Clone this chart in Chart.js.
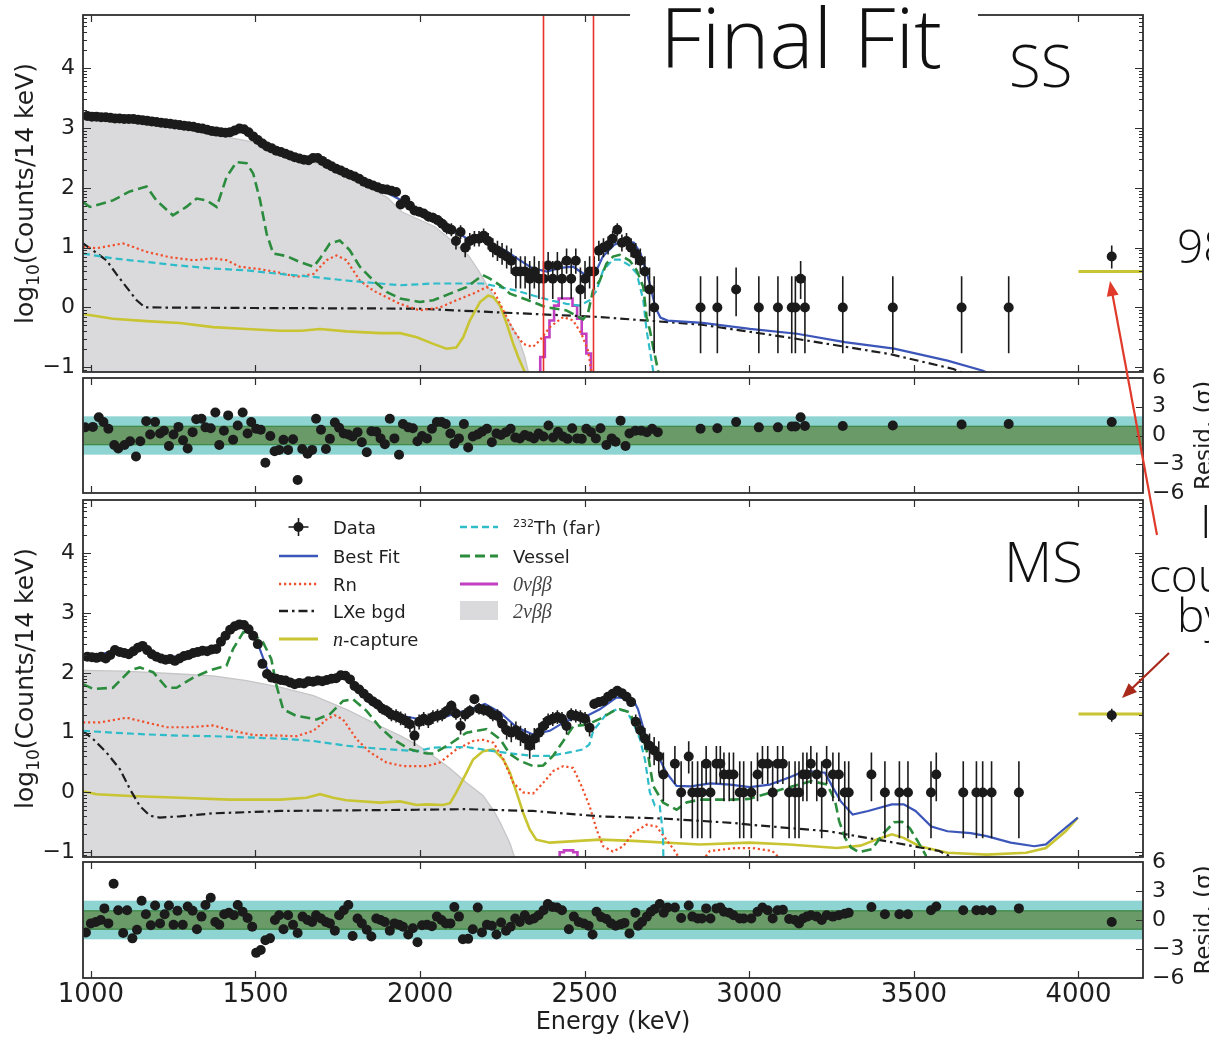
<!DOCTYPE html>
<html>
<head>
<meta charset="utf-8">
<title>Final Fit</title>
<script src="https://cdn.jsdelivr.net/npm/chart.js@4.4.1/dist/chart.umd.min.js"></script>
<style>
  html, body { margin: 0; padding: 0; background: #ffffff; }
  #page { position: relative; width: 1209px; height: 1040px; overflow: hidden; background: #fff; }
  #page canvas { position: absolute; left: 0; }
</style>
</head>
<body>
<div id="page">
  <canvas id="ssMain" width="1209" height="380" style="top:0px"></canvas>
  <canvas id="ssRes" width="1209" height="150" style="top:360px"></canvas>
  <canvas id="msMain" width="1209" height="380" style="top:485px"></canvas>
  <canvas id="msRes" width="1209" height="195" style="top:845px"></canvas>
  <canvas id="notes" width="1209" height="1040" style="top:0px"></canvas>
</div>
<script>
// ---------------- axes ----------------
const X_MIN = 976, X_MAX = 4196;
const X_TICKS = [1000, 1500, 2000, 2500, 3000, 3500, 4000];
const LOG_MIN = -1.08, LOG_MAX = 4.89;
const LOG_TICKS = [-1, 0, 1, 2, 3, 4];
const RES_MIN = -6, RES_MAX = 6;
const RES_TICKS = [-6, -3, 0, 3, 6];
const SIGMA_BANDS = [1, 2];
const BIN_WIDTH = 14;
const ROI_BOUNDS = [2374, 2525];

// ---------------- single-site (SS) spectrum ----------------
// log10(counts) per 14 keV bin, contiguous bins starting at SS_FIRST_BIN
const SS_FIRST_BIN = 989;
const SS_COUNTS_LOG = [
  3.20,3.19,3.19,3.18,3.18,3.17,3.16,3.16,3.15,3.15,
  3.15,3.14,3.13,3.12,3.11,3.10,3.09,3.08,3.07,3.06,
  3.05,3.04,3.03,3.02,3.00,2.99,2.97,2.95,2.94,2.93,
  2.92,2.93,2.96,2.99,2.98,2.93,2.86,2.80,2.74,2.69,
  2.66,2.62,2.60,2.57,2.54,2.51,2.49,2.47,2.46,2.50,
  2.50,2.45,2.40,2.36,2.32,2.29,2.25,2.22,2.19,2.15,
  2.10,2.07,2.04,2.01,1.98,1.97,1.95,1.93,1.72,1.80,
  1.70,1.62,1.60,1.57,1.52,1.50,1.46,1.40,1.33,1.30,
  1.11,1.26,1.00,1.11,1.15,1.15,1.20,1.11,1.00,0.95,
  0.90,0.85,0.78,0.60,0.60,0.60,0.48,0.60,0.48,0.48,
  0.70,0.48,0.70,0.48,0.78,0.48,0.78,0.30,0.48,0.60,
  0.60,0.95,1.00,1.04,1.15,1.30,1.08,1.11,1.00,0.90,
  0.78,0.60,0.30,0.00
];
// isolated high-energy bins [energy, log10(counts)]; last one is the overflow bin
const SS_SPARSE = [
  [2852,0],[2903,0],[2960,0.30],[3029,0],[3087,0],[3129,0],[3140,0],[3156,0.48],
  [3169,0],[3284,0],[3436,0],[3645,0],[3788,0],[4101,0.85]
];
const SS_OVERFLOW_LEVEL = [[4000,0.6],[4196,0.6]];
const SS_BEST_FIT = [
  [976,3.19],[1100,3.15],[1200,3.10],[1300,3.02],[1400,2.93],[1450,2.97],[1480,2.93],[1530,2.71],
  [1600,2.56],[1650,2.47],[1690,2.49],[1750,2.32],[1850,2.06],[1950,1.77],[2000,1.61],[2040,1.49],
  [2090,1.32],[2140,1.16],[2200,1.10],[2260,0.95],[2300,0.80],[2340,0.66],[2385,0.60],[2425,0.66],
  [2465,0.68],[2500,0.55],[2530,0.55],[2555,0.85],[2590,1.05],[2620,1.12],[2650,1.08],[2670,0.90],
  [2695,0.45],[2715,0.0],[2730,-0.17],[2752,-0.22],[2858,-0.26],[3002,-0.36],[3145,-0.44],
  [3290,-0.58],[3440,-0.69],[3602,-0.89],[3710,-1.06],[3740,-1.14]
];
const SS_VESSEL = [
  [976,1.76],[997,1.68],[1067,1.79],[1118,1.94],[1169,2.02],[1199,1.79],[1249,1.54],[1290,1.68],
  [1321,1.82],[1351,1.79],[1382,1.68],[1412,2.18],[1442,2.43],[1473,2.41],[1493,2.24],[1514,1.79],
  [1534,1.23],[1554,0.90],[1594,0.86],[1634,0.76],[1676,0.68],[1696,0.82],[1726,1.07],[1756,1.12],
  [1786,0.96],[1817,0.68],[1858,0.45],[1898,0.26],[1939,0.15],[1999,0.09],[2040,0.12],[2091,0.23],
  [2141,0.34],[2191,0.54],[2212,0.48],[2243,0.37],[2273,0.23],[2303,0.17],[2343,0.09],[2384,0.0],
  [2424,-0.03],[2444,-0.05],[2475,-0.14],[2495,-0.20],[2510,-0.10],[2525,0.28],[2546,0.45],
  [2566,0.73],[2586,0.85],[2606,0.88],[2637,0.78],[2658,0.62],[2678,0.34],[2688,-0.16],
  [2698,-0.38],[2708,-0.66],[2723,-1.06],[2730,-1.5]
];
const SS_TH_FAR = [
  [976,0.90],[1067,0.82],[1169,0.76],[1270,0.70],[1371,0.65],[1473,0.62],[1574,0.56],[1676,0.51],
  [1776,0.45],[1878,0.40],[1939,0.37],[2040,0.40],[2141,0.40],[2191,0.40],[2243,0.34],[2293,0.28],
  [2343,0.20],[2394,0.12],[2445,0.06],[2485,0.03],[2515,0.12],[2536,0.28],[2556,0.62],[2586,0.80],
  [2606,0.80],[2637,0.70],[2658,0.57],[2678,0.12],[2688,-0.38],[2698,-0.72],[2708,-1.06],[2715,-1.5]
];
const SS_RN = [
  [976,1.01],[1017,0.99],[1098,1.07],[1169,0.93],[1239,0.84],[1311,0.79],[1371,0.82],[1412,0.79],
  [1452,0.68],[1514,0.64],[1574,0.58],[1624,0.51],[1676,0.56],[1716,0.79],[1746,0.87],[1776,0.79],
  [1817,0.45],[1858,0.28],[1898,0.17],[1939,0.06],[1999,-0.05],[2060,0.0],[2110,0.12],[2161,0.23],
  [2202,0.34],[2223,0.28],[2253,-0.05],[2283,-0.38],[2313,-0.61],[2343,-0.66],[2364,-0.55],
  [2394,-0.33],[2435,-0.16],[2465,-0.22],[2490,-0.44],[2510,-0.72],[2520,-1.06],[2525,-1.5]
];
const SS_LXE = [
  [976,1.07],[1007,0.95],[1047,0.79],[1077,0.56],[1108,0.34],[1139,0.12],[1164,0.0],[1500,-0.01],
  [1990,-0.02],[2545,-0.16],[2856,-0.29],[3115,-0.50],[3427,-0.78],[3620,-1.03],[3660,-1.12]
];
const SS_NCAPTURE = [
  [976,-0.11],[1067,-0.19],[1169,-0.23],[1270,-0.26],[1371,-0.33],[1473,-0.36],[1574,-0.39],
  [1640,-0.39],[1696,-0.36],[1776,-0.40],[1878,-0.43],[1939,-0.43],[1990,-0.50],[2040,-0.61],
  [2080,-0.69],[2110,-0.67],[2131,-0.50],[2151,-0.22],[2182,0.09],[2207,0.20],[2223,0.17],
  [2243,0.03],[2263,-0.27],[2283,-0.61],[2298,-0.83],[2318,-1.08],[2322,-1.5]
];
const SS_ZERONU = [
  [2358,-1.5],[2372,-0.83],[2386,-0.50],[2400,-0.22],[2414,0.03],[2428,0.15],[2442,0.15],
  [2456,0.15],[2470,0.03],[2484,-0.19],[2498,-0.44],[2512,-0.77],[2526,-1.5]
];
const SS_TWONU = [
  [976,3.14],[1100,3.10],[1200,3.04],[1300,2.96],[1400,2.86],[1500,2.76],[1600,2.58],[1700,2.38],
  [1800,2.14],[1900,1.84],[1944,1.60],[2045,1.35],[2096,1.12],[2147,0.87],[2177,0.62],[2207,0.34],
  [2238,0.06],[2268,-0.22],[2298,-0.50],[2318,-0.83],[2328,-1.06],[2332,-1.5]
];
// residuals [energy, (data - fit)/sigma]
const SS_RESID = [
  [982,0.85],[1006,0.9],[1024,1.9],[1038,1.4],[1053,0.7],[1071,-1.0],[1083,-1.35],[1102,-1.0],
  [1119,-0.6],[1137,-2.2],[1150,-0.6],[1168,1.5],[1180,0.1],[1195,1.4],[1210,0.2],[1222,0.5],
  [1237,-1.1],[1251,0.1],[1266,0.9],[1280,-0.5],[1294,-1.35],[1309,0.35],[1320,1.7],[1336,1.75],
  [1348,0.85],[1364,0.75],[1378,2.4],[1390,-1.0],[1404,0.5],[1417,2.1],[1432,-0.45],[1446,1.05],
  [1461,2.4],[1476,0.2],[1487,1.4],[1502,0.7],[1516,0.6],[1530,-2.85],[1545,-0.05],[1558,-1.65],
  [1572,-1.5],[1585,-0.45],[1599,-1.5],[1614,-0.4],[1628,-4.65],[1642,-1.4],[1658,-1.9],[1672,-1.5],
  [1684,1.75],[1699,0.6],[1714,-1.4],[1726,-0.35],[1741,1.35],[1754,0.8],[1768,0.2],[1782,0.1],
  [1795,-0.1],[1810,0.35],[1823,-0.7],[1838,-1.75],[1852,0.45],[1867,0.4],[1880,-0.3],[1893,-0.9],
  [1908,1.75],[1922,-0.3],[1936,-2.0],[1948,1.2],[1964,0.85],[1978,0.75],[1992,-0.6],[2006,-0.05],
  [2021,-0.3],[2036,0.7],[2051,1.4],[2065,1.4],[2078,1.2],[2092,0.2],[2104,-0.85],[2118,-0.3],
  [2133,1.2],[2146,-1.25],[2160,-0.1],[2175,0.1],[2188,0.4],[2203,0.7],[2218,-0.7],[2232,0.2],
  [2246,0.05],[2261,0.35],[2275,0.7],[2289,-0.2],[2303,-0.3],[2318,0.05],[2332,-0.1],[2346,-0.3],
  [2360,0.2],[2375,-0.1],[2390,1.05],[2404,-0.2],[2419,0.4],[2434,-0.1],[2448,-0.35],[2462,0.75],
  [2477,-0.3],[2491,-0.35],[2505,0.7],[2519,0.35],[2534,-0.3],[2548,0.75],[2566,-1.0],[2582,-0.3],
  [2594,-0.65],[2609,1.55],[2624,-1.1],[2636,0.2],[2654,0.5],[2672,0.5],[2689,0.35],[2705,0.7],
  [2722,0.35],[2852,0.7],[2903,0.75],[2960,1.4],[3029,0.85],[3087,0.85],[3129,0.95],[3140,0.95],
  [3156,1.9],[3169,1.0],[3284,1.0],[3436,1.05],[3645,1.15],[3788,1.2],[4101,1.4]
];

// ---------------- multi-site (MS) spectrum ----------------
const MS_FIRST_BIN = 989;
const MS_COUNTS_LOG = [
  2.27,2.26,2.25,2.27,2.24,2.30,2.38,2.35,2.33,2.31,
  2.36,2.42,2.45,2.38,2.31,2.27,2.24,2.22,2.23,2.20,
  2.24,2.28,2.30,2.33,2.35,2.37,2.36,2.39,2.40,2.52,
  2.62,2.72,2.78,2.81,2.80,2.73,2.62,2.48,2.15,1.98,
  1.92,1.90,1.88,1.87,1.84,1.81,1.83,1.82,1.86,1.85,
  1.87,1.86,1.88,1.90,1.91,1.96,1.95,1.89,1.78,1.72,
  1.65,1.58,1.52,1.47,1.40,1.36,1.30,1.28,1.24,1.20,
  1.14,0.95,1.18,1.23,1.20,1.26,1.28,1.30,1.36,1.45,
  1.32,1.11,1.30,1.36,1.56,1.40,1.38,1.36,1.30,1.28,
  1.15,1.04,1.00,1.04,0.95,0.90,0.78,0.90,1.00,1.11,
  1.20,1.23,1.26,1.23,1.11,1.30,1.28,1.26,1.23,1.08,
  1.48,1.51,1.53,1.60,1.65,1.70,1.66,1.60,1.51,1.18,
  1.04,0.90,0.78,0.70,0.60,0.30
];
const MS_SPARSE = [
  [2774,0.48],[2793,0],[2816,0.60],[2827,0],[2843,0],[2856,0],[2869,0.48],[2882,0],[2900,0.48],
  [2912,0.48],[2923,0.30],[2939,0.30],[2952,0.30],[2971,0],[2983,0],[3006,0],[3025,0.30],
  [3040,0.48],[3056,0.48],[3071,0],[3086,0.48],[3102,0.48],[3121,0],[3139,0],[3151,0],
  [3163,0.30],[3175,0.30],[3187,0.48],[3205,0.30],[3220,0],[3235,0.48],[3254,0.30],[3272,0.30],
  [3290,0],[3302,0],[3371,0.30],[3412,0],[3456,0],[3482,0],[3552,0],[3568,0.30],[3650,0],
  [3690,0],[3709,0],[3736,0],[3819,0],[4101,1.29]
];
const MS_OVERFLOW_LEVEL = [[4000,1.31],[4196,1.31]];
const MS_BEST_FIT = [
  [976,2.27],[1070,2.35],[1150,2.40],[1230,2.25],[1300,2.30],[1382,2.40],[1422,2.70],[1452,2.80],
  [1482,2.70],[1513,2.40],[1543,1.95],[1583,1.88],[1653,1.84],[1724,1.88],[1769,1.96],[1794,1.88],
  [1835,1.62],[1905,1.35],[1955,1.27],[2005,1.22],[2066,1.24],[2106,1.32],[2167,1.42],[2197,1.48],
  [2243,1.34],[2293,1.09],[2343,0.97],[2394,1.03],[2445,1.20],[2506,1.28],[2546,1.39],[2597,1.59],
  [2647,1.56],[2662,1.39],[2688,0.89],[2718,0.67],[2748,0.33],[2779,0.11],[2822,0.10],[2882,0.15],
  [2942,0.13],[3002,0.09],[3062,0.13],[3121,0.25],[3169,0.36],[3230,0.33],[3254,0.08],[3278,-0.15],
  [3314,-0.37],[3361,-0.31],[3433,-0.20],[3469,-0.20],[3505,-0.31],[3553,-0.57],[3602,-0.65],
  [3673,-0.68],[3721,-0.73],[3794,-0.84],[3866,-0.90],[3901,-0.87],[3937,-0.70],[3998,-0.42]
];
const MS_VESSEL = [
  [976,1.81],[1007,1.73],[1067,1.75],[1119,2.04],[1149,2.09],[1189,2.01],[1230,1.75],[1260,1.75],
  [1311,1.92],[1361,2.04],[1412,2.12],[1432,2.40],[1463,2.68],[1493,2.65],[1523,2.51],[1548,2.23],
  [1564,1.78],[1584,1.39],[1624,1.28],[1686,1.22],[1726,1.31],[1766,1.53],[1796,1.56],[1838,1.36],
  [1878,1.09],[1918,0.89],[1968,0.72],[2020,0.65],[2040,0.65],[2091,0.81],[2141,1.00],[2202,1.06],
  [2243,0.89],[2273,0.64],[2303,0.53],[2343,0.44],[2374,0.45],[2405,0.62],[2435,0.86],[2466,1.11],
  [2506,1.13],[2546,1.23],[2587,1.36],[2607,1.39],[2637,1.34],[2658,1.06],[2678,0.89],[2693,0.61],
  [2708,0.11],[2738,-0.17],[2779,-0.29],[2809,-0.17],[2850,-0.12],[2950,-0.12],[2998,-0.11],
  [3117,0.08],[3189,0.19],[3237,0.13],[3261,-0.15],[3273,-0.48],[3291,-0.76],[3309,-0.92],
  [3333,-1.0],[3373,-0.95],[3405,-0.70],[3440,-0.50],[3464,-0.49],[3488,-0.60],[3512,-0.82],
  [3536,-1.05],[3545,-1.5]
];
const MS_TH_FAR = [
  [976,1.03],[1067,1.0],[1169,0.97],[1270,0.95],[1371,0.94],[1473,0.92],[1574,0.90],[1676,0.86],
  [1776,0.78],[1878,0.73],[1990,0.69],[2040,0.75],[2141,0.76],[2223,0.69],[2293,0.64],[2343,0.61],
  [2394,0.61],[2445,0.66],[2495,0.72],[2514,0.80],[2526,1.03],[2566,1.31],[2597,1.39],[2627,1.36],
  [2647,1.17],[2668,0.89],[2683,0.55],[2698,0.0],[2713,-0.22],[2728,-0.23],[2738,-0.70],[2740,-1.5]
];
const MS_RN = [
  [976,1.17],[1027,1.17],[1108,1.25],[1169,1.17],[1230,1.09],[1301,1.09],[1371,1.12],[1432,1.03],
  [1493,0.96],[1574,0.95],[1624,0.94],[1676,1.03],[1716,1.22],[1741,1.29],[1766,1.22],[1807,0.89],
  [1848,0.67],[1898,0.50],[1948,0.44],[2020,0.44],[2060,0.50],[2110,0.72],[2161,0.86],[2191,0.88],
  [2223,0.83],[2253,0.55],[2283,0.16],[2313,0.0],[2343,-0.02],[2374,0.16],[2405,0.36],[2435,0.44],
  [2465,0.41],[2490,0.11],[2515,-0.23],[2536,-0.62],[2556,-0.90],[2586,-0.99],[2617,-0.90],
  [2647,-0.68],[2688,-0.54],[2718,-0.57],[2748,-0.79],[2779,-1.02],[2800,-1.3],[2850,-1.2],
  [2880,-0.98],[2960,-0.93],[3010,-0.93],[3070,-0.98],[3110,-1.2]
];
const MS_LXE = [
  [976,1.03],[1007,0.89],[1047,0.67],[1088,0.39],[1119,0.05],[1149,-0.23],[1179,-0.39],[1209,-0.42],
  [1270,-0.40],[1371,-0.35],[1473,-0.33],[1574,-0.31],[1776,-0.30],[1990,-0.29],[2141,-0.28],
  [2343,-0.31],[2546,-0.40],[2748,-0.44],[2951,-0.51],[3001,-0.54],[3241,-0.65],[3421,-0.82],
  [3577,-0.98],[3610,-1.07],[3650,-1.2]
];
const MS_NCAPTURE = [
  [976,0.02],[1017,-0.03],[1119,-0.06],[1270,-0.09],[1422,-0.12],[1574,-0.12],[1655,-0.09],
  [1696,-0.03],[1736,-0.09],[1776,-0.13],[1878,-0.17],[1939,-0.15],[1990,-0.21],[2020,-0.20],
  [2070,-0.21],[2091,-0.18],[2110,0.0],[2141,0.33],[2161,0.55],[2191,0.69],[2223,0.72],[2253,0.55],
  [2273,0.33],[2293,0.0],[2313,-0.34],[2333,-0.62],[2353,-0.79],[2394,-0.84],[2546,-0.79],
  [2647,-0.81],[2850,-0.87],[3001,-0.84],[3121,-0.87],[3266,-0.93],[3338,-0.89],[3385,-0.79],
  [3433,-0.70],[3469,-0.76],[3517,-0.90],[3602,-1.01],[3721,-1.04],[3841,-1.01],[3901,-0.93],
  [3961,-0.65],[3998,-0.42]
];
const MS_ZERONU = [[2418,-1.5],[2430,-1.0],[2444,-0.97],[2458,-0.97],[2472,-1.0],[2484,-1.5]];
const MS_TWONU = [
  [976,2.04],[1100,2.03],[1270,1.98],[1371,1.95],[1473,1.87],[1574,1.76],[1676,1.62],[1776,1.39],
  [1878,1.11],[1939,0.95],[1990,0.80],[2040,0.61],[2091,0.40],[2141,0.16],[2191,-0.05],[2223,-0.30],
  [2243,-0.50],[2273,-0.85],[2288,-1.1],[2292,-1.5]
];
const MS_RESID = [
  [985,-1.3],[1000,-0.35],[1015,-0.2],[1030,0.0],[1041,1.2],[1053,-0.35],[1069,3.75],[1083,1.0],
  [1098,-1.35],[1110,1.0],[1126,-1.9],[1140,-1.0],[1154,2.0],[1167,0.6],[1182,-0.55],[1195,1.5],
  [1210,-0.35],[1224,0.6],[1237,1.5],[1251,-0.5],[1263,0.95],[1279,-0.5],[1294,1.4],[1309,0.95],
  [1322,-0.95],[1336,0.35],[1348,1.55],[1364,2.3],[1378,-0.2],[1390,-0.5],[1405,0.6],[1419,0.75],
  [1434,0.5],[1446,1.55],[1461,0.85],[1476,0.2],[1490,-0.7],[1502,-3.4],[1516,-3.1],[1530,-2.1],
  [1544,-1.9],[1559,0.0],[1572,0.5],[1585,-0.95],[1599,0.5],[1614,-0.5],[1628,-1.35],[1643,0.35],
  [1658,0.0],[1672,-0.2],[1684,0.5],[1699,0.15],[1714,-0.2],[1726,-0.35],[1741,-1.1],[1754,0.5],
  [1768,1.0],[1782,1.55],[1795,-1.65],[1810,0.15],[1823,-0.35],[1838,-1.0],[1852,-1.7],[1867,0.15],
  [1880,0.0],[1893,-0.2],[1908,-1.1],[1922,-0.35],[1936,-0.5],[1948,-0.7],[1964,-1.5],[1978,-0.85],
  [1992,-2.3],[2006,-0.55],[2021,-0.5],[2036,-0.65],[2051,0.35],[2065,0.0],[2078,-0.35],[2092,-0.35],
  [2104,1.35],[2118,0.35],[2130,-2.0],[2146,-1.95],[2160,-0.95],[2175,1.3],[2188,-1.3],[2203,-0.5],
  [2218,-0.6],[2232,-1.5],[2246,-0.25],[2261,-1.1],[2275,-0.7],[2289,0.15],[2303,-0.2],[2318,0.5],
  [2332,0.0],[2346,0.15],[2360,0.5],[2375,1.0],[2388,1.65],[2402,1.35],[2416,1.3],[2431,1.0],
  [2452,-0.95],[2467,0.35],[2482,-0.2],[2497,-0.35],[2512,-0.6],[2524,-1.5],[2536,0.85],[2550,0.3],
  [2566,0.1],[2580,-0.35],[2594,-0.6],[2609,-0.45],[2621,-0.3],[2636,-1.4],[2654,0.75],[2662,-0.6],
  [2674,-0.2],[2689,0.35],[2701,0.85],[2713,1.15],[2728,1.65],[2740,0.75],[2752,1.3],[2774,1.3],
  [2793,0.2],[2816,1.5],[2827,0.35],[2843,0.15],[2856,0.15],[2869,1.2],[2882,0.15],[2900,1.2],
  [2912,1.3],[2923,0.85],[2939,0.75],[2952,0.5],[2971,0.15],[2983,0.15],[3006,0.15],[3025,0.85],
  [3040,1.3],[3056,1.0],[3071,0.15],[3086,1.0],[3102,1.05],[3121,0.1],[3139,0.0],[3151,-0.35],
  [3163,0.15],[3175,0.35],[3187,0.5],[3205,0.35],[3220,0.0],[3235,0.5],[3254,0.35],[3272,0.5],
  [3290,0.65],[3302,0.75],[3371,1.35],[3412,0.6],[3456,0.6],[3482,0.6],[3552,1.0],[3568,1.4],
  [3650,1.0],[3690,1.0],[3709,1.0],[3736,1.0],[3819,1.2],[4101,-0.2]
];

// ---------------- legend labels ----------------
const LEGEND_ENTRIES = [
  { key: 'data',   col: 0, row: 0, parts: [{ t: 'Data' }] },
  { key: 'best',   col: 0, row: 1, parts: [{ t: 'Best Fit' }] },
  { key: 'rn',     col: 0, row: 2, parts: [{ t: 'Rn' }] },
  { key: 'lxe',    col: 0, row: 3, parts: [{ t: 'LXe bgd' }] },
  { key: 'ncap',   col: 0, row: 4, parts: [{ t: 'n', it: true }, { t: '-capture' }] },
  { key: 'th',     col: 1, row: 0, parts: [{ t: '232', sup: true }, { t: 'Th (far)' }] },
  { key: 'vessel', col: 1, row: 1, parts: [{ t: 'Vessel' }] },
  { key: 'zeronu', col: 1, row: 2, parts: [{ t: '0νββ', it: true }] },
  { key: 'twonu',  col: 1, row: 3, parts: [{ t: '2νββ', it: true }] }
];

// ---------------- styles ----------------
const STYLE = {
  data:   { color: '#1b1b1b', radius: 5 },
  best:   { color: '#3b55b8', width: 2.2, dash: [] },
  rn:     { color: '#f0502c', width: 2.2, dash: [2.2, 2.8] },
  lxe:    { color: '#1e1e1e', width: 2.2, dash: [9, 4, 2.5, 4] },
  ncap:   { color: '#c8c432', width: 2.6, dash: [] },
  th:     { color: '#2ebcc9', width: 2.2, dash: [7, 4] },
  vessel: { color: '#2b8c3d', width: 2.6, dash: [10, 5] },
  zeronu: { color: '#c23fc2', width: 2.6, dash: [] },
  twonu:  { fill: '#dadadd', edge: '#c6c6c8' }
};
const SANS = '"DejaVu Sans", sans-serif';
const LIGHT = '"Open Sans", "Liberation Sans", sans-serif';
const ITAL = '"Liberation Serif", "DejaVu Serif", serif';

// ---------------- helpers ----------------
const toPts = arr => arr.map(([x, y]) => ({ x, y }));
const binPts = (first, vals) => vals.map((v, i) => ({ x: first + i * BIN_WIDTH, y: v }));
const fmtTick = v => (v < 0 ? '\u2212' + Math.abs(v) : String(v));

function lineSet(arr, st, extra) {
  return Object.assign({
    type: 'line', data: toPts(arr), borderColor: st.color, borderWidth: st.width,
    borderDash: st.dash, pointRadius: 0, pointHoverRadius: 0, fill: false, clip: 0
  }, extra || {});
}
function pointSet(pts) {
  return {
    type: 'line', data: pts, showLine: false, pointRadius: STYLE.data.radius,
    pointHoverRadius: STYLE.data.radius,
    pointBackgroundColor: STYLE.data.color, pointBorderColor: STYLE.data.color,
    pointBorderWidth: 0, clip: 0
  };
}

// Poisson (Gehrels) interval in log10 space for the error bars
const errorBarPlugin = {
  id: 'errbars',
  afterDatasetsDraw(chart, args, o) {
    if (o.datasetIndex == null) return;
    const { ctx, chartArea: a } = chart;
    const xs = chart.scales.x, ys = chart.scales.y;
    const pts = chart.data.datasets[o.datasetIndex].data;
    ctx.save();
    ctx.beginPath(); ctx.rect(a.left, a.top, a.right - a.left, a.bottom - a.top); ctx.clip();
    ctx.strokeStyle = STYLE.data.color; ctx.lineWidth = 1.6;
    ctx.beginPath();
    for (const p of pts) {
      const n = Math.pow(10, p.y);
      const hi = n + Math.sqrt(n + 0.75) + 1;
      const lo = n * Math.pow(1 - 1 / (9 * n) - 1 / (3 * Math.sqrt(n)), 3);
      const px = xs.getPixelForValue(p.x);
      ctx.moveTo(px, ys.getPixelForValue(Math.log10(hi)));
      ctx.lineTo(px, lo > 0 ? ys.getPixelForValue(Math.log10(lo)) : a.bottom);
      const py = ys.getPixelForValue(p.y);
      ctx.moveTo(xs.getPixelForValue(p.x - BIN_WIDTH / 2), py);
      ctx.lineTo(xs.getPixelForValue(p.x + BIN_WIDTH / 2), py);
    }
    ctx.stroke();
    ctx.restore();
  }
};

const roiPlugin = {
  id: 'roi',
  afterDatasetsDraw(chart, args, o) {
    if (!o.bounds) return;
    const { ctx, chartArea: a } = chart;
    ctx.save();
    ctx.strokeStyle = '#e8322a'; ctx.lineWidth = 1.6;
    ctx.beginPath();
    for (const e of o.bounds) {
      const px = Math.round(chart.scales.x.getPixelForValue(e)) + 0.5;
      ctx.moveTo(px, a.top); ctx.lineTo(px, a.bottom);
    }
    ctx.stroke();
    ctx.restore();
  }
};

const bandPlugin = {
  id: 'bands',
  beforeDatasetsDraw(chart, args, o) {
    if (!o.on) return;
    const { ctx, chartArea: a } = chart; const ys = chart.scales.y;
    const w = a.right - a.left;
    const [s1, s2] = SIGMA_BANDS;
    ctx.save();
    const t2 = ys.getPixelForValue(s2), b2 = ys.getPixelForValue(-s2);
    ctx.fillStyle = '#8ed4d2'; ctx.fillRect(a.left, t2, w, b2 - t2);
    const t1 = ys.getPixelForValue(s1), b1 = ys.getPixelForValue(-s1);
    ctx.fillStyle = '#699a67'; ctx.fillRect(a.left, t1, w, b1 - t1);
    ctx.strokeStyle = '#3e8b4c'; ctx.lineWidth = 1.2;
    ctx.beginPath();
    ctx.moveTo(a.left, t1 + 0.5); ctx.lineTo(a.right, t1 + 0.5);
    ctx.moveTo(a.left, b1 - 0.5); ctx.lineTo(a.right, b1 - 0.5);
    ctx.stroke();
    ctx.restore();
  }
};

const framePlugin = {
  id: 'frame',
  afterDatasetsDraw(chart, args, o) {
    const { ctx, chartArea: a } = chart;
    const xs = chart.scales.x, ys = chart.scales.y;
    ctx.save();
    ctx.strokeStyle = '#2e2e2e'; ctx.lineWidth = 1.2;
    ctx.beginPath();
    for (const v of X_TICKS) {
      const px = Math.round(xs.getPixelForValue(v)) + 0.5;
      ctx.moveTo(px, a.top); ctx.lineTo(px, a.top + 7);
      ctx.moveTo(px, a.bottom); ctx.lineTo(px, a.bottom - 7);
    }
    if (o.kind === 'main') {
      for (let d = -2; d <= 4; d++) {
        for (let k = 1; k <= 9; k++) {
          const v = d + Math.log10(k);
          if (v < LOG_MIN || v > LOG_MAX) continue;
          const py = Math.round(ys.getPixelForValue(v)) + 0.5;
          const len = k === 1 ? 8 : 4;
          ctx.moveTo(a.left, py); ctx.lineTo(a.left + len, py);
          ctx.moveTo(a.right, py); ctx.lineTo(a.right - len, py);
        }
      }
    } else {
      for (const v of RES_TICKS) {
        if (v === RES_MIN || v === RES_MAX) continue;
        const py = Math.round(ys.getPixelForValue(v)) + 0.5;
        ctx.moveTo(a.right, py); ctx.lineTo(a.right - 7, py);
      }
    }
    ctx.stroke();
    ctx.lineWidth = 1.8;
    ctx.strokeRect(a.left, a.top, a.right - a.left, a.bottom - a.top);
    ctx.restore();
  }
};

function partFont(p, size) {
  if (p.sup) return `${Math.round(size * 0.6)}px ${SANS}`;
  if (p.it) return `italic ${Math.round(size * 1.1)}px ${ITAL}`;
  return `${size}px ${SANS}`;
}
function drawParts(ctx, parts, x, y, size, measureOnly) {
  let cx = x;
  for (const p of parts) {
    ctx.font = p.font || partFont(p, size);
    const dy = p.dy != null ? p.dy : (p.sup ? -size * 0.35 : 0);
    if (!measureOnly) ctx.fillText(p.t, cx, y + dy);
    cx += ctx.measureText(p.t).width + (p.gap || 0);
  }
  return cx - x;
}

function drawLegendSample(ctx, key, x0, x1, y) {
  const st = STYLE[key];
  ctx.save();
  if (key === 'data') {
    const cx = (x0 + x1) / 2;
    ctx.strokeStyle = st.color; ctx.lineWidth = 1.6;
    ctx.beginPath();
    ctx.moveTo(cx, y - 9); ctx.lineTo(cx, y + 9);
    ctx.moveTo(cx - 10, y); ctx.lineTo(cx + 10, y);
    ctx.stroke();
    ctx.fillStyle = st.color;
    ctx.beginPath(); ctx.arc(cx, y, st.radius, 0, Math.PI * 2); ctx.fill();
  } else if (key === 'twonu') {
    ctx.fillStyle = st.fill; ctx.fillRect(x0, y - 10, x1 - x0, 19);
  } else {
    ctx.strokeStyle = st.color; ctx.lineWidth = st.width + 0.4; ctx.setLineDash(st.dash);
    ctx.beginPath(); ctx.moveTo(x0, y); ctx.lineTo(x1, y); ctx.stroke();
  }
  ctx.restore();
}

const textPlugin = {
  id: 'panelText',
  afterDraw(chart, args, o) {
    const { ctx, chartArea: a } = chart;
    ctx.save();
    ctx.fillStyle = '#1e1e1e';
    ctx.textBaseline = 'alphabetic';
    if (o.yTitle) {
      const parts = [
        { t: 'log', font: `25px ${SANS}` },
        { t: '10', font: `17px ${SANS}`, dy: 6 },
        { t: '(Counts/14 keV)', font: `25px ${SANS}` }
      ];
      ctx.save();
      ctx.translate(33, (a.top + a.bottom) / 2);
      ctx.rotate(-Math.PI / 2);
      const w = drawParts(ctx, parts, 0, 0, 25, true);
      drawParts(ctx, parts, -w / 2, 0, 25);
      ctx.restore();
    }
    if (o.residTitle) {
      ctx.save();
      ctx.translate(1211, (a.top + a.bottom) / 2);
      ctx.rotate(-Math.PI / 2);
      ctx.font = `23px ${SANS}`; ctx.textAlign = 'center';
      ctx.fillText('Resid. (\u03c3)', 0, 0);
      ctx.restore();
    }
    if (o.tag) {
      ctx.font = `300 ${o.tag.size}px ${LIGHT}`;
      ctx.fillStyle = '#111';
      ctx.fillText(o.tag.text, o.tag.x, a.top + o.tag.dy);
    }
    if (o.bigTitle) {
      ctx.fillStyle = '#ffffff';
      ctx.fillRect(630, 0, 348, 24);
      ctx.fillStyle = '#111';
      ctx.font = `300 83px ${LIGHT}`;
      ctx.fillText(o.bigTitle, 660, 68);
    }
    if (o.legend) {
      const rows = [27, 56, 84, 111, 139];
      const cols = [{ x0: 279, x1: 318, tx: 333 }, { x0: 460, x1: 498, tx: 513 }];
      for (const e of LEGEND_ENTRIES) {
        const c = cols[e.col], y = a.top + rows[e.row];
        drawLegendSample(ctx, e.key, c.x0, c.x1, y);
        ctx.fillStyle = (e.key === 'zeronu' || e.key === 'twonu') ? '#444' : '#1e1e1e';
        drawParts(ctx, e.parts, c.tx, y + 6.5, 18);
      }
    }
    ctx.restore();
  }
};

const fixedY = (width) => ({
  afterFit(s) { s.width = width; s.paddingTop = 0; s.paddingBottom = 0; }
});

// ---------------- chart builders ----------------
function mainChart(id, d, opts) {
  const dataPts = binPts(d.first, d.counts).concat(toPts(d.sparse));
  const datasets = [
    pointSet(dataPts),
    lineSet(d.best, STYLE.best),
    lineSet(d.vessel, STYLE.vessel),
    lineSet(d.th, STYLE.th),
    lineSet(d.rn, STYLE.rn),
    lineSet(d.lxe, STYLE.lxe),
    lineSet(d.zeronu, STYLE.zeronu, { stepped: 'middle' }),
    lineSet(d.ncap, STYLE.ncap),
    lineSet(d.overflow, STYLE.ncap, { borderWidth: 3 }),
    lineSet(d.twonu, { color: STYLE.twonu.edge, width: 1.3, dash: [] },
            { fill: 'start', backgroundColor: STYLE.twonu.fill })
  ];
  return new Chart(document.getElementById(id), {
    data: { datasets },
    options: {
      responsive: false, animation: false, devicePixelRatio: 1,
      events: [],
      layout: { padding: { left: 0, right: 66, top: 15, bottom: 8 } },
      plugins: {
        legend: { display: false }, tooltip: { enabled: false },
        errbars: { datasetIndex: 0 },
        roi: { bounds: opts.roi || null },
        bands: { on: false },
        frame: { kind: 'main' },
        panelText: opts.text
      },
      scales: {
        x: { type: 'linear', min: X_MIN, max: X_MAX, display: false },
        y: Object.assign({
          type: 'linear', position: 'left', min: LOG_MIN, max: LOG_MAX,
          grid: { display: false, drawTicks: false }, border: { display: false },
          ticks: { font: { family: 'DejaVu Sans', size: 22 }, color: '#1e1e1e', padding: 8,
                   autoSkip: false, callback: fmtTick },
          afterBuildTicks(s) { s.ticks = LOG_TICKS.map(v => ({ value: v })); }
        }, fixedY(83))
      }
    },
    plugins: [errorBarPlugin, roiPlugin, bandPlugin, framePlugin, textPlugin]
  });
}

function residChart(id, resid, padTop, padBottom, withAxis) {
  const xScale = withAxis ? {
    type: 'linear', min: X_MIN, max: X_MAX, position: 'bottom',
    grid: { display: false, drawTicks: false }, border: { display: false },
    ticks: { font: { family: 'DejaVu Sans', size: 26 }, color: '#1e1e1e', padding: 2,
             maxRotation: 0, autoSkip: false, callback: v => String(v) },
    title: { display: true, text: 'Energy (keV)', font: { family: 'DejaVu Sans', size: 24 },
             color: '#1e1e1e', padding: { top: 0, bottom: 3 } },
    afterBuildTicks(s) { s.ticks = X_TICKS.map(v => ({ value: v })); },
    afterFit(s) { s.height = 62; s.paddingLeft = 0; s.paddingRight = 0; }
  } : { type: 'linear', min: X_MIN, max: X_MAX, display: false };
  return new Chart(document.getElementById(id), {
    data: { datasets: [pointSet(toPts(resid))] },
    options: {
      responsive: false, animation: false, devicePixelRatio: 1,
      events: [],
      layout: { padding: { left: 83, right: 0, top: padTop, bottom: withAxis ? 0 : padBottom } },
      plugins: {
        legend: { display: false }, tooltip: { enabled: false },
        errbars: {}, roi: {}, bands: { on: true }, frame: { kind: 'resid' },
        panelText: { residTitle: true }
      },
      scales: {
        x: xScale,
        y: Object.assign({
          type: 'linear', position: 'right', min: RES_MIN, max: RES_MAX,
          grid: { display: false, drawTicks: false }, border: { display: false },
          ticks: { font: { family: 'DejaVu Sans', size: 22 }, color: '#1e1e1e', padding: 9,
                   autoSkip: false, callback: fmtTick },
          afterBuildTicks(s) { s.ticks = RES_TICKS.map(v => ({ value: v })); }
        }, fixedY(66))
      }
    },
    plugins: [bandPlugin, framePlugin, textPlugin]
  });
}

mainChart('ssMain', {
  first: SS_FIRST_BIN, counts: SS_COUNTS_LOG, sparse: SS_SPARSE, overflow: SS_OVERFLOW_LEVEL,
  best: SS_BEST_FIT, vessel: SS_VESSEL, th: SS_TH_FAR, rn: SS_RN, lxe: SS_LXE,
  ncap: SS_NCAPTURE, zeronu: SS_ZERONU, twonu: SS_TWONU
}, {
  roi: ROI_BOUNDS,
  text: { yTitle: true, tag: { text: 'SS', x: 1009, dy: 72, size: 58 }, bigTitle: 'Final Fit' }
});
residChart('ssRes', SS_RESID, 18, 17, false);
mainChart('msMain', {
  first: MS_FIRST_BIN, counts: MS_COUNTS_LOG, sparse: MS_SPARSE, overflow: MS_OVERFLOW_LEVEL,
  best: MS_BEST_FIT, vessel: MS_VESSEL, th: MS_TH_FAR, rn: MS_RN, lxe: MS_LXE,
  ncap: MS_NCAPTURE, zeronu: MS_ZERONU, twonu: MS_TWONU
}, {
  text: { yTitle: true, tag: { text: 'MS', x: 1004, dy: 82, size: 56 }, legend: true }
});
residChart('msRes', MS_RESID, 17, 0, true);

// ---------------- side notes (partly outside the page edge) ----------------
(function drawNotes() {
  const ctx = document.getElementById('notes').getContext('2d');
  ctx.fillStyle = '#111';
  ctx.font = `300 46px ${LIGHT}`;
  ctx.fillText('98', 1177, 263);
  ctx.fillText('I', 1200, 538);
  ctx.fillText('cou', 1149, 592);
  ctx.fillText('by', 1177, 632);
  function arrow(x0, y0, x1, y1, color) {
    const ang = Math.atan2(y1 - y0, x1 - x0), L = 15, W = 6;
    ctx.save();
    ctx.strokeStyle = color; ctx.fillStyle = color; ctx.lineWidth = 2.2;
    ctx.beginPath(); ctx.moveTo(x0, y0);
    ctx.lineTo(x1 - Math.cos(ang) * L * 0.8, y1 - Math.sin(ang) * L * 0.8); ctx.stroke();
    ctx.beginPath();
    ctx.moveTo(x1, y1);
    ctx.lineTo(x1 - Math.cos(ang) * L - Math.sin(ang) * W, y1 - Math.sin(ang) * L + Math.cos(ang) * W);
    ctx.lineTo(x1 - Math.cos(ang) * L + Math.sin(ang) * W, y1 - Math.sin(ang) * L - Math.cos(ang) * W);
    ctx.closePath(); ctx.fill();
    ctx.restore();
  }
  arrow(1157, 535, 1110, 281, '#e03a2a');
  arrow(1169, 653, 1122, 698, '#a8281a');
})();
</script>
</body>
</html>
